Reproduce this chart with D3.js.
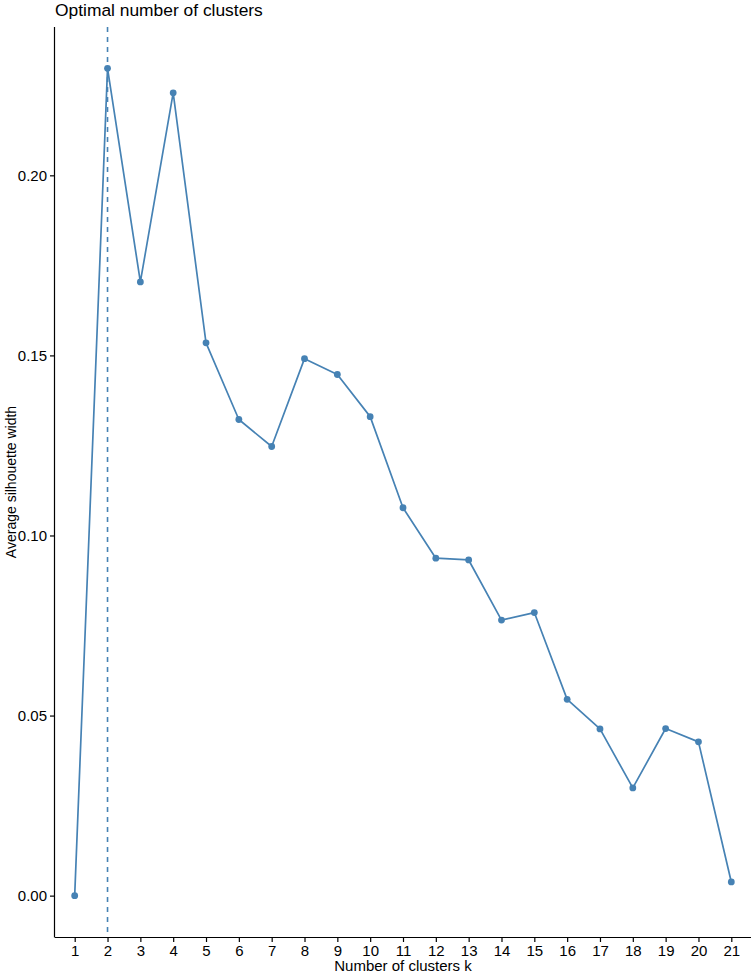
<!DOCTYPE html>
<html>
<head>
<meta charset="utf-8">
<script src="https://cdn.jsdelivr.net/npm/d3@7/dist/d3.min.js"></script>
<style>
  html, body { margin: 0; padding: 0; background: #fff; }
  svg { display: block; }
  text { font-family: "Liberation Sans", Arial, Helvetica, sans-serif; }
</style>
</head>
<body>
<div id="chart"></div>
<script>
const clustersK = [1,2,3,4,5,6,7,8,9,10,11,12,13,14,15,16,17,18,19,20,21];
const silhouette = [0.0000,0.2297,0.1704,0.2229,0.1535,0.1322,0.1247,0.1491,0.1447,0.1330,0.1077,0.0937,0.0932,0.0765,0.0786,0.0545,0.0463,0.0299,0.0464,0.0427,0.0038];
const optimalK = [2];
const yTicks = [0.00, 0.05, 0.10, 0.15, 0.20];
const titleText = "Optimal number of clusters";
const xTitle = "Number of clusters k";
const yTitle = "Average silhouette width";

const W = 753, H = 975;
const pL = 55, pR = 751, pT = 27, pB = 937;
const color = "#4682B4";

const svg = d3.select("#chart").append("svg").attr("width", W).attr("height", H);

const x = d3.scaleLinear().domain([0.4, 21.6]).range([pL, pR]);
const ymin = d3.min(silhouette), ymax = d3.max(silhouette);
const pad = (ymax - ymin) * 0.05;
const y = d3.scaleLinear().domain([ymin - pad, ymax + pad]).range([pB, pT]);

// vertical dashed line
svg.selectAll("line.vline").data(optimalK).enter().append("line")
  .attr("class", "vline")
  .attr("x1", d => x(d)).attr("x2", d => x(d))
  .attr("y1", pT).attr("y2", pB)
  .attr("stroke", color).attr("stroke-width", 1.6)
  .attr("stroke-dasharray", "5,5");

const pts = clustersK.map((k, i) => ({k, v: silhouette[i]}));

svg.append("path").datum(pts)
  .attr("fill", "none").attr("stroke", color).attr("stroke-width", 1.7)
  .attr("stroke-linejoin", "round")
  .attr("d", d3.line().x(d => x(d.k)).y(d => y(d.v)));

svg.selectAll("circle.pt").data(pts).enter().append("circle")
  .attr("class", "pt")
  .attr("cx", d => x(d.k)).attr("cy", d => y(d.v)).attr("r", 3.4)
  .attr("fill", color);

// axes
const xAxis = d3.axisBottom(x).tickValues(clustersK).tickFormat(d3.format("d")).tickSize(5).tickSizeOuter(0).tickPadding(3);
const gx = svg.append("g").attr("transform", `translate(0,${pB})`).call(xAxis);
gx.select(".domain").attr("d", `M${pL},0.5H${pR}`).attr("stroke", "#000").attr("stroke-width", 1.2);
gx.selectAll(".tick line").attr("stroke", "#000").attr("stroke-width", 1.2);
gx.selectAll(".tick text").attr("font-size", 15).attr("fill", "#000")
  .attr("font-family", "'Liberation Sans', Arial, sans-serif");

const yAxis = d3.axisLeft(y).tickValues(yTicks).tickFormat(d3.format(".2f")).tickSize(5).tickSizeOuter(0).tickPadding(3);
const gy = svg.append("g").attr("transform", `translate(${pL},0)`).call(yAxis);
gy.select(".domain").attr("d", `M-0.5,${pT}V${pB + 0.5}`).attr("stroke", "#000").attr("stroke-width", 1.2);
gy.selectAll(".tick line").attr("stroke", "#000").attr("stroke-width", 1.2);
gy.selectAll(".tick text").attr("font-size", 15).attr("fill", "#000")
  .attr("font-family", "'Liberation Sans', Arial, sans-serif");

// titles
svg.append("text").attr("x", pL).attr("y", 16).attr("font-size", 17.4).attr("fill", "#000").text(titleText);
svg.append("text").attr("x", (pL + pR) / 2).attr("y", 971).attr("text-anchor", "middle")
  .attr("font-size", 15).attr("fill", "#000").text(xTitle);
svg.append("text").attr("transform", `translate(16,${(pT + pB) / 2}) rotate(-90)`)
  .attr("text-anchor", "middle").attr("font-size", 14).attr("fill", "#000").text(yTitle);
</script>
</body>
</html>
